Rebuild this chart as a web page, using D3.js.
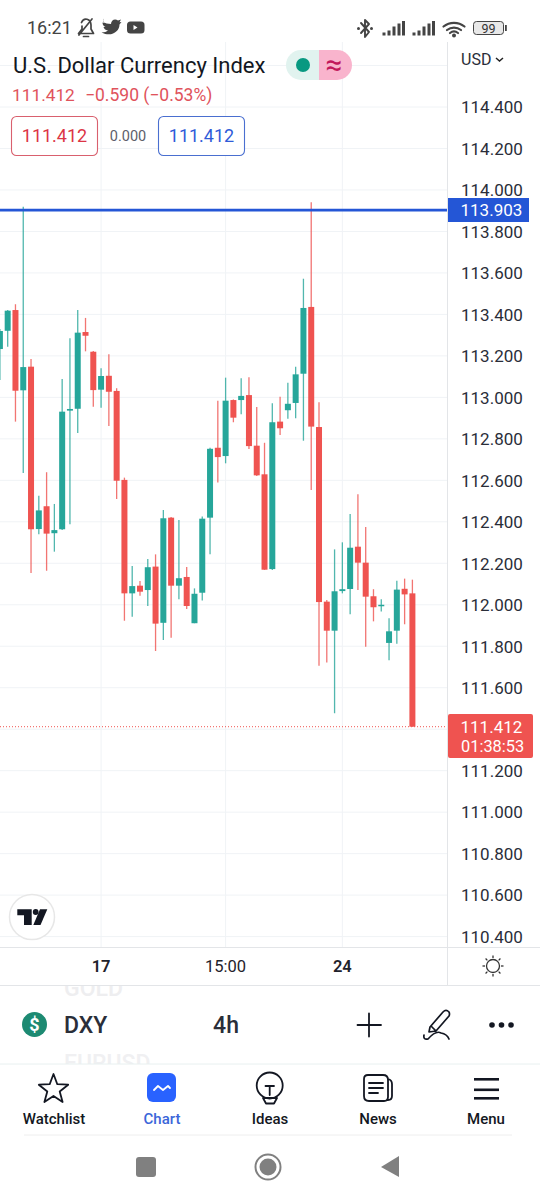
<!DOCTYPE html>
<html><head><meta charset="utf-8">
<script src="https://cdnjs.cloudflare.com/ajax/libs/d3/7.8.5/d3.min.js"></script>
<style>html,body{margin:0;padding:0;background:#fff}svg{display:block;font-family:Roboto,sans-serif}</style>
</head><body><svg id="c" width="540" height="1200"></svg>
<script>
const opens=[113.233,113.321,113.421,113.034,113.148,112.365,112.475,112.345,112.364,112.936,112.945,113.315,113.220,113.037,113.104,113.031,112.602,112.055,112.092,112.071,112.184,111.913,112.420,112.092,112.134,111.911,112.058,112.420,112.757,112.717,112.987,112.987,113.011,112.767,112.629,112.172,112.883,112.938,112.973,113.114,113.436,112.857,112.015,111.875,112.066,112.076,112.280,112.203,112.041,111.994,111.816,111.875,112.077,112.055];
const highs=[113.330,113.421,113.449,113.919,113.185,112.526,112.639,112.486,113.089,113.285,113.421,113.383,113.224,113.140,113.208,113.044,112.613,112.187,112.115,112.221,112.243,112.457,112.423,112.409,112.182,112.079,112.425,112.757,112.984,113.095,112.990,113.092,113.097,112.954,112.781,112.971,113.003,113.071,113.148,113.572,113.941,112.976,112.023,112.267,112.301,112.438,112.533,112.375,112.075,112.026,111.935,112.116,112.126,112.121];
const lows=[113.084,113.244,112.883,112.635,112.153,112.340,112.164,112.256,112.360,112.388,112.828,113.222,112.955,112.950,112.862,112.510,111.923,111.942,112.044,111.994,111.777,111.830,111.841,112.026,111.980,111.911,112.020,112.243,112.589,112.682,112.880,112.918,112.751,112.621,112.168,112.168,112.819,112.897,112.899,112.791,112.553,111.706,111.721,111.477,112.055,111.954,112.071,111.798,111.920,111.967,111.732,111.812,111.906,111.412];
const closes=[113.320,113.418,113.032,113.146,112.364,112.455,112.343,112.360,112.931,112.944,113.312,113.297,113.035,113.103,113.027,112.598,112.055,112.090,112.063,112.181,111.909,112.417,112.092,112.128,111.994,112.053,112.415,112.752,112.712,112.984,112.902,113.007,112.765,112.624,112.169,112.880,112.851,112.969,113.111,113.431,112.859,112.013,111.875,112.065,112.075,112.275,112.203,112.039,111.988,112.000,111.872,112.073,112.050,111.412];
const priceTicks=[114.4,114.2,114.0,113.8,113.6,113.4,113.2,113.0,112.8,112.6,112.4,112.2,112.0,111.8,111.6,111.2,111.0,110.8,110.6,110.4];
const gridPrices=[114.6,114.4,114.2,114.0,113.8,113.6,113.4,113.2,113.0,112.8,112.6,112.4,112.2,112.0,111.8,111.6,111.4,111.2,111.0,110.8,110.6,110.4];
const timeTickIndex=[13,29,44];
const timeTickLabels=["17","15:00","24"];
const timeTickWeights=[600,400,600];
const alertPrice=113.903, lastPrice=111.412;

const svg=d3.select("#c");
const UP="#26a69a",DOWN="#ef5350",INK="#131722";
const y=d3.scaleLinear().domain([114.4,110.4]).range([107,936.6]);
const x=d3.scaleLinear().domain([0,53]).range([-0.1,412.4]);
const idx=d3.range(opens.length);
const plotR=447, plotT=42, plotB=947;

// grid
svg.append("g").selectAll("line").data(gridPrices).join("line")
 .attr("x1",0).attr("x2",plotR).attr("y1",d=>y(d)).attr("y2",d=>y(d)).attr("stroke","#f0f3f6").attr("stroke-width",1);
svg.append("g").selectAll("line").data(timeTickIndex).join("line")
 .attr("x1",d=>x(d)).attr("x2",d=>x(d)).attr("y1",plotT).attr("y2",plotB).attr("stroke","#f0f3f6").attr("stroke-width",1);

// candles
const chart=svg.append("g");
chart.selectAll("line").data(idx).join("line")
 .attr("x1",i=>x(i)).attr("x2",i=>x(i)).attr("y1",i=>y(highs[i])).attr("y2",i=>y(lows[i]))
 .attr("stroke",i=>closes[i]>=opens[i]?UP:DOWN).attr("stroke-width",1.3).attr("opacity",.8);
chart.selectAll("rect").data(idx).join("rect")
 .attr("x",i=>x(i)-3).attr("width",6)
 .attr("y",i=>y(Math.max(opens[i],closes[i])))
 .attr("height",i=>Math.max(1.5,Math.abs(y(opens[i])-y(closes[i]))))
 .attr("fill",i=>closes[i]>=opens[i]?UP:DOWN);

// price lines
svg.append("line").attr("x1",0).attr("x2",plotR).attr("y1",y(alertPrice)).attr("y2",y(alertPrice)).attr("stroke","#2456d6").attr("stroke-width",2.6);
svg.append("line").attr("x1",0).attr("x2",plotR).attr("y1",y(lastPrice)).attr("y2",y(lastPrice)).attr("stroke","#ef5350").attr("stroke-width",1).attr("stroke-dasharray","1 2");

// frame
const fr=[[447.5,plotT,447.5,985],[0,947.5,540,947.5],[0,985.5,540,985.5]];
svg.append("g").selectAll("line").data(fr).join("line").attr("x1",d=>d[0]).attr("y1",d=>d[1]).attr("x2",d=>d[2]).attr("y2",d=>d[3]).attr("stroke","#e3e5e8");

// price axis
const ax=svg.append("g").attr("transform","translate(448,0)")
 .call(d3.axisRight(y).tickValues(priceTicks).tickFormat(d3.format(".3f")).tickSize(0).tickPadding(13));
ax.select(".domain").remove();
ax.selectAll("text").attr("font-family","Roboto").attr("font-size",17).attr("fill","#2a2e39").attr("dy","0.34em");

// time axis
svg.append("g").selectAll("text").data(timeTickIndex).join("text")
 .attr("x",d=>x(d)).attr("y",972).attr("text-anchor","middle").attr("font-size",16.5)
 .attr("font-weight",(d,i)=>timeTickWeights[i]).attr("fill","#1f222b").text((d,i)=>timeTickLabels[i]);

// price labels
const T=(s,px,py,o={})=>svg.append("text").attr("x",px).attr("y",py).attr("font-size",o.size||16).attr("fill",o.fill||INK)
 .attr("font-weight",o.w||400).attr("text-anchor",o.a||"start").attr("opacity",o.op||1).text(s);
svg.append("rect").attr("x",448).attr("y",198).attr("width",81).attr("height",24).attr("fill","#2456d6");
T(d3.format(".3f")(alertPrice),460.5,216,{size:17,fill:"#fff"});
svg.append("rect").attr("x",448).attr("y",714).attr("width",85).attr("height",44).attr("rx",2).attr("fill","#ef5350");
T(d3.format(".3f")(lastPrice),460.5,733,{size:17,fill:"#fff"});
T("01:38:53",461,752,{size:16.4,fill:"#fff"});

// header
T("16:21",27,34,{size:18,fill:"#444"});
T("U.S. Dollar Currency Index",13,73,{size:22,fill:"#131722"});
T("111.412",12,101,{size:17.3,fill:"#e0535c"});
T("−0.590 (−0.53%)",85,101,{size:17.5,fill:"#e0535c"});
const box=(bx,col,tc)=>{svg.append("rect").attr("x",bx+.5).attr("y",116.5).attr("width",86).attr("height",39).attr("rx",5).attr("fill","#fff").attr("stroke",col).attr("stroke-width",1.1);
 T(d3.format(".3f")(lastPrice),bx+43.5,142,{size:18,fill:tc,a:"middle"});};
box(11,"#d9606e","#dc3545");box(158,"#4a6fd0","#2f5bd8");
T("0.000",128,141,{size:14.5,fill:"#5d606b",a:"middle"});
svg.append("path").attr("d","M319,50H301a15,15 0 0 0 0,30H319Z").attr("fill","#e1f3ef");
svg.append("path").attr("d","M319,50H337a15,15 0 0 1 0,30H319Z").attr("fill","#f9b4cd");
svg.append("circle").attr("cx",303).attr("cy",65).attr("r",7).attr("fill","#089981");
T("≈",334,75,{size:30,fill:"#c2185b",a:"middle"});
T("USD",461,65,{size:16,fill:"#2a2e39"});
svg.append("path").attr("d","M496,58l3.5,3l3.5,-3").attr("fill","none").attr("stroke","#222").attr("stroke-width",1.5);

// status icons
const G="#444";
const P=(d,o={})=>svg.append("path").attr("d",d).attr("fill",o.fill||"none").attr("stroke",o.stroke||"none").attr("stroke-width",o.sw||1.5).attr("stroke-linecap",o.cap||"round").attr("stroke-linejoin","round");
P("M78.500,33.500H93.500L91,29V25A5,6 0 0 0 81.500,22.500M78.500,33.500L82,29V26M79,35L92,19M83.500,36.500H88.500",{stroke:G,sw:1.7});
P("M103,22c2,1 5,2 8,2c0,-4 4,-6 7,-3.500l3,-1l-1.500,2.800l2,-.3l-2,2.500c0,7 -8,13 -18,8c3,0 5,-.8 6.500,-2c-3,-.5 -4,-2 -4.500,-3.500l2,0c-2,-1 -3,-2.500 -3,-4.500l2,.5c-1.500,-1.500 -2,-3 -1,-4.500z",{fill:G});
svg.append("rect").attr("x",127).attr("y",21.500).attr("width",17.500).attr("height",12).attr("rx",3.500).attr("fill",G);
P("M133.500,25v5l4,-2.500z",{fill:"#fff"});
P("M361,23L369,32L365,37V20L369,24L361,33",{stroke:G,sw:1.9});
svg.append("g").selectAll("circle").data([358.500,371.500]).join("circle").attr("cx",d=>d).attr("cy",28.500).attr("r",1.500).attr("fill",G);
const sig=[[383,3],[388,5],[393,9],[398,12],[402.500,14.500]];
[0,30].forEach(o=>svg.append("g").selectAll("rect").data(sig).join("rect").attr("x",d=>d[0]+o-.5).attr("y",d=>35.500-d[1]).attr("width",3).attr("height",d=>d[1]).attr("fill",G));
P("M443.500,26.500a17,17 0 0 1 21,0M447,30a11.500,11.500 0 0 1 14,0M450,33a6.500,6.500 0 0 1 8,0",{stroke:G,sw:2.200});
svg.append("circle").attr("cx",454).attr("cy",35.500).attr("r",2).attr("fill",G);
svg.append("rect").attr("x",473.500).attr("y",21.500).attr("width",30).attr("height",13).attr("rx",3).attr("fill","#e8e8e8").attr("stroke",G).attr("stroke-width",1);
svg.append("rect").attr("x",505).attr("y",25).attr("width",1.800).attr("height",6).attr("fill",G);
T("99",488.500,32.500,{size:12.500,fill:"#333",a:"middle"});

// TV logo
svg.append("circle").attr("cx",32).attr("cy",917).attr("r",22.500).attr("fill","#fff").attr("stroke","#e7e7e7").attr("stroke-width",1.500);
P("M17.300,909.300H31.700V925H24V915.300H17.300Z",{fill:"#131722"});
P("M47.300,909.300H40L33.300,925H40.500Z",{fill:"#131722"});
svg.append("circle").attr("cx",35.700).attr("cy",912).attr("r",2.900).attr("fill","#131722");

// sun
svg.append("circle").attr("cx",493).attr("cy",966).attr("r",6.500).attr("fill","none").attr("stroke","#333").attr("stroke-width",1.300);
d3.range(8).forEach(k=>{const a=k*Math.PI/4;svg.append("line").attr("x1",493+8*Math.cos(a)).attr("y1",966+8*Math.sin(a)).attr("x2",493+10.500*Math.cos(a)).attr("y2",966+10.500*Math.sin(a)).attr("stroke","#333").attr("stroke-width",1.300);});

// toolbar ghosts (clipped)
const defs=svg.append("defs");
defs.append("clipPath").attr("id","g1").append("rect").attr("x",0).attr("y",986).attr("width",540).attr("height",12);
defs.append("clipPath").attr("id","g2").append("rect").attr("x",0).attr("y",1050).attr("width",540).attr("height",14);
T("GOLD",64,996,{size:23,fill:"#eeeef0",w:500}).attr("clip-path","url(#g1)");
T("EURUSD",64,1071,{size:23,fill:"#f0f0f2",w:500}).attr("clip-path","url(#g2)");
svg.append("circle").attr("cx",34.500).attr("cy",1024.500).attr("r",12.500).attr("fill","#1d8a72");
T("$",34.500,1031,{size:18,fill:"#fff",w:700,a:"middle"});
T("DXY",64,1033,{size:23,fill:"#2a2e39",w:500});
T("4h",226,1033,{size:23,fill:"#2a2e39",w:500,a:"middle"});
P("M357.500,1025H381M369,1013.500V1036.500",{stroke:"#131722",sw:1.800});
P("M430,1027L443,1012Q446,1009 449,1012Q450,1014 449,1016L436,1031L429,1032ZM431,1026L436,1031M424,1035Q423,1040 428,1039Q436,1030 441,1033Q447,1034 449,1039",{stroke:"#131722",sw:1.700});
svg.append("g").selectAll("circle").data([492,501.500,511]).join("circle").attr("cx",d=>d).attr("cy",1025).attr("r",2.800).attr("fill","#131722");

// nav
svg.append("line").attr("x1",0).attr("x2",540).attr("y1",1064).attr("y2",1064).attr("stroke","#e8f0f0");
svg.append("line").attr("x1",24).attr("x2",512).attr("y1",1135).attr("y2",1135).attr("stroke","#eeeeee");
const star=d3.range(10).map(k=>{const r=k%2?6.500:15.500,a=-Math.PI/2+k*Math.PI/5;return (k?"L":"M")+(53.500+r*Math.cos(a)).toFixed(1)+","+(1089.500+r*Math.sin(a)).toFixed(1);}).join("")+"Z";
P(star,{stroke:"#131722",sw:1.800});
svg.append("rect").attr("x",147).attr("y",1073).attr("width",29).attr("height",29).attr("rx",6).attr("fill","#2962ff");
P("M154,1090l4,-4l5,4l5,-4l2,2",{stroke:"#fff",sw:1.800});
svg.append("circle").attr("cx",269.700).attr("cy",1085.500).attr("r",13).attr("fill","none").attr("stroke","#131722").attr("stroke-width",1.800);
P("M265.500,1086H274M269.700,1086V1095M263,1098H277L274,1103.500H266Z",{stroke:"#131722",sw:1.800});
P("M368,1075H383Q388,1075 388,1080V1097Q388,1101 384,1101H369Q364,1101 364,1096V1079Q364,1075 368,1075ZM388,1079Q392,1080 392,1084V1096Q392,1100 388,1100M369,1083H383M369,1088H383M369,1093H378",{stroke:"#131722",sw:1.800});
[1078,1088.500,1097].forEach(v=>svg.append("rect").attr("x",474).attr("y",v).attr("width",25).attr("height",2.600).attr("fill","#131722"));
const navs=[["Watchlist",54,"#131722"],["Chart",162,"#3b66d9"],["Ideas",270,"#131722"],["News",378,"#131722"],["Menu",486,"#131722"]];
navs.forEach(n=>T(n[0],n[1],1124,{size:15,w:500,fill:n[2],a:"middle"}));

// system nav
svg.append("rect").attr("x",136).attr("y",1157).attr("width",20).attr("height",20).attr("rx",3).attr("fill","#808080");
svg.append("circle").attr("cx",268).attr("cy",1167).attr("r",12.500).attr("fill","none").attr("stroke","#808080").attr("stroke-width",2);
svg.append("circle").attr("cx",268).attr("cy",1167).attr("r",8.500).attr("fill","#808080");
P("M399,1156V1177L381,1167Z",{fill:"#808080"});
</script></body></html>
